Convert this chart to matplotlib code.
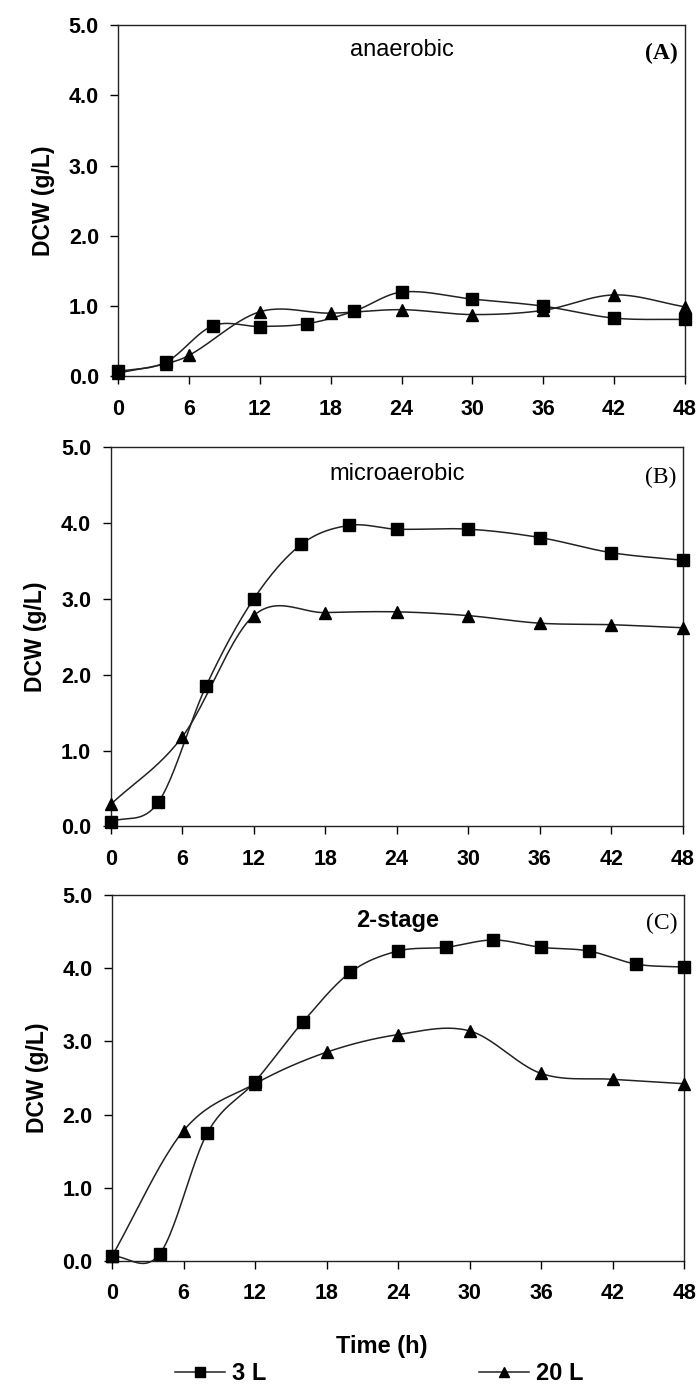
import numpy as np
import matplotlib
matplotlib.use("Agg")
import matplotlib.pyplot as plt
from matplotlib.lines import Line2D

plt.rcParams['font.family'] = ['Liberation Sans', 'DejaVu Sans']

# panel A - anaerobic
t_a_3 = [0, 4, 8, 12, 16, 20, 24, 30, 36, 42, 48]
a_3 = [0.07, 0.2, 0.72, 0.71, 0.75, 0.93, 1.2, 1.1, 1.0, 0.83, 0.81]
t_a_20 = [0, 4, 6, 12, 18, 24, 30, 36, 42, 48]
a_20 = [0.05, 0.18, 0.3, 0.92, 0.9, 0.95, 0.88, 0.94, 1.16, 0.99]

# panel B - microaerobic
t_b_3 = [0, 4, 8, 12, 16, 20, 24, 30, 36, 42, 48]
b_3 = [0.06, 0.32, 1.85, 3.0, 3.72, 3.97, 3.92, 3.92, 3.81, 3.61, 3.51]
t_b_20 = [0, 6, 12, 18, 24, 30, 36, 42, 48]
b_20 = [0.29, 1.18, 2.78, 2.82, 2.83, 2.78, 2.68, 2.66, 2.62]

# panel C - 2-stage
t_c_3 = [0, 4, 8, 12, 16, 20, 24, 28, 32, 36, 40, 44, 48]
c_3 = [0.07, 0.1, 1.75, 2.45, 3.26, 3.94, 4.23, 4.28, 4.38, 4.28, 4.23, 4.05, 4.01]
t_c_20 = [0, 6, 12, 18, 24, 30, 36, 42, 48]
c_20 = [0.07, 1.78, 2.42, 2.85, 3.09, 3.14, 2.56, 2.48, 2.42]

x_ticks = [0, 6, 12, 18, 24, 30, 36, 42, 48]
y_ticks = [0, 1, 2, 3, 4, 5]


def smooth(x, y, n=24):
    # cubic hermite through the points, like the spline curve of the original
    x = np.asarray(x, float)
    y = np.asarray(y, float)
    m = np.empty_like(y)
    m[1:-1] = (y[2:] - y[:-2]) / (x[2:] - x[:-2])
    m[0] = (y[1] - y[0]) / (x[1] - x[0])
    m[-1] = (y[-1] - y[-2]) / (x[-1] - x[-2])
    xs, ys = [], []
    s = np.linspace(0, 1, n, endpoint=False)
    h00 = 2 * s**3 - 3 * s**2 + 1
    h10 = s**3 - 2 * s**2 + s
    h01 = -2 * s**3 + 3 * s**2
    h11 = s**3 - s**2
    for i in range(len(x) - 1):
        h = x[i + 1] - x[i]
        xs.append(x[i] + s * h)
        ys.append(h00 * y[i] + h10 * h * m[i] + h01 * y[i + 1] + h11 * h * m[i + 1])
    xs.append([x[-1]])
    ys.append([y[-1]])
    return np.concatenate(xs), np.concatenate(ys)


fig = plt.figure(figsize=(6.96, 13.89), dpi=100)

panels = [
    # rect, data, title, tag, title weight, tag weight
    ([0.170, 0.729, 0.814, 0.253], (t_a_3, a_3, t_a_20, a_20), "anaerobic", "(A)", 'normal', 'bold'),
    ([0.159, 0.405, 0.822, 0.273], (t_b_3, b_3, t_b_20, b_20), "microaerobic", "(B)", 'normal', 'normal'),
    ([0.161, 0.092, 0.822, 0.264], (t_c_3, c_3, t_c_20, c_20), "2-stage", "(C)", 'bold', 'normal'),
]

lc = '#222222'
for i, (rect, d, title, tag, tw, gw) in enumerate(panels):
    ax = fig.add_axes(rect)
    t3, v3, t20, v20 = d
    sx, sy = smooth(t3, v3)
    ax.plot(sx, sy, color=lc, lw=1.1, zorder=2, clip_on=False)
    ax.plot(t3, v3, 's', color='black', ms=8.5, zorder=3, clip_on=False)
    sx, sy = smooth(t20, v20)
    ax.plot(sx, sy, color=lc, lw=1.1, zorder=2, clip_on=False)
    ax.plot(t20, v20, '^', color='black', ms=8.5, zorder=3, clip_on=False)

    ax.set_xlim(0, 48)
    ax.set_ylim(0, 5)
    ax.set_xticks(x_ticks)
    ax.set_yticks(y_ticks)
    ax.set_yticklabels([f"{v:.1f}" for v in y_ticks])
    ax.tick_params(direction='out', length=6, width=1, labelsize=15.5)
    ax.tick_params(axis='x', pad=10)
    ax.tick_params(axis='y', pad=8)
    for lab in ax.get_xticklabels() + ax.get_yticklabels():
        lab.set_fontweight('bold')
    for sp in ax.spines.values():
        sp.set_linewidth(1.0)
        sp.set_color('#222222')
    ax.set_ylabel("DCW (g/L)", fontsize=16.5, fontweight='bold', labelpad=10)
    ax.text(0.5, 0.93, title, transform=ax.transAxes, ha='center', va='center',
            fontsize=17, fontweight=tw)
    ax.text(0.988, 0.92, tag, transform=ax.transAxes, ha='right', va='center',
            fontsize=17, fontweight=gw, family=['Liberation Serif', 'DejaVu Serif'])
    if i == 2:
        ax.set_xlabel("Time (h)", fontsize=17, fontweight='bold', labelpad=20)
        ax.xaxis.set_label_coords(0.472, -0.2)

handles = [
    Line2D([], [], color=lc, lw=1.1, marker='s', ms=7, markerfacecolor='black', markeredgecolor='black'),
    Line2D([], [], color=lc, lw=1.1, marker='^', ms=7, markerfacecolor='black', markeredgecolor='black'),
]
fig.legend(handles, ["3 L", "20 L"], loc='center', bbox_to_anchor=(0.545, 0.011), ncol=2,
           frameon=False, prop={'size': 17, 'weight': 'bold'}, columnspacing=9.0,
           handlelength=2.1, handletextpad=0.3)

fig.savefig("out.png", dpi=100)
